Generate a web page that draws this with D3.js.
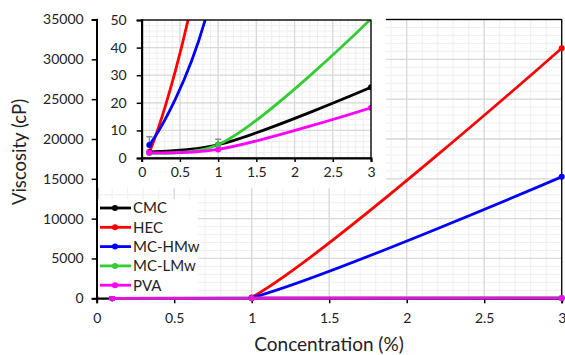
<!DOCTYPE html>
<html>
<head>
<meta charset="utf-8">
<script src="https://cdn.jsdelivr.net/npm/d3@7"></script>
<style>
  body { margin: 0; background: #fff; }
  text { font-family: Lato, "Open Sans", sans-serif; fill: #222; }
</style>
</head>
<body>
<script>
// concentrations (%) measured
var conc = [0.1, 1, 3];

// viscosity (cP) per polymer
var cmc   = [2.2, 4.8, 25.6];
var hec   = [2.0, 116, 31400];
var mcHMw = [4.7, 70, 15250];
var mcLMw = [1.8, 4.8, 50.4];
var pva   = [1.9, 3.1, 18.2];

// error bars (only the visible ones)
var errMcHMw = [3.0, 0, 0];
var errMcLMw = [0, 2.0, 0];

var seriesNames = ["CMC", "HEC", "MC-HMw", "MC-LMw", "PVA"];
var seriesColors = ["#000000", "#ff0000", "#0000ff", "#33cc33", "#ff00ff"];

var xTicks = [0, 0.5, 1, 1.5, 2, 2.5, 3];
var yTicks = [0, 5000, 10000, 15000, 20000, 25000, 30000, 35000];
var insetYTicks = [0, 10, 20, 30, 40, 50];

var series = [
    {name: "CMC", values: cmc, err: null},
    {name: "HEC", values: hec, err: null},
    {name: "MC-HMw", values: mcHMw, err: errMcHMw},
    {name: "MC-LMw", values: mcLMw, err: errMcLMw},
    {name: "PVA", values: pva, err: null}
];

function init_svg() {
    var width = 565;
    var height = 355;
    var svg = d3.select("body")
        .append("svg")
        .attr("width", width)
        .attr("height", height);

    var color = d3.scaleOrdinal().domain(seriesNames).range(seriesColors);
    var defs = svg.append("defs");

    // ---------- main chart ----------
    var x = d3.scaleLinear().domain([0, 3]).range([96.7, 561.7]);
    var y = d3.scaleLinear().domain([0, 35000]).range([298.3, 19.5]);

    defs.append("clipPath").attr("id", "mainClip")
        .append("rect")
        .attr("x", x(0)).attr("y", y(35000))
        .attr("width", x(3) - x(0)).attr("height", y(0) - y(35000) + 1.4);

    var g = svg.append("g");

    // minor grid
    g.append("g").selectAll("line")
        .data(d3.range(0, 31).map(i => i / 10))
        .join("line")
        .attr("x1", d => x(d)).attr("x2", d => x(d))
        .attr("y1", y(0)).attr("y2", y(35000))
        .attr("stroke", "#efefef").attr("stroke-width", 1);
    g.append("g").selectAll("line")
        .data(d3.range(0, 36).map(i => i * 1000))
        .join("line")
        .attr("x1", x(0)).attr("x2", x(3))
        .attr("y1", d => y(d)).attr("y2", d => y(d))
        .attr("stroke", "#efefef").attr("stroke-width", 1);
    // major grid
    g.append("g").selectAll("line")
        .data(xTicks)
        .join("line")
        .attr("x1", d => x(d)).attr("x2", d => x(d))
        .attr("y1", y(0)).attr("y2", y(35000))
        .attr("stroke", "#d9d9d9").attr("stroke-width", 1.3);
    g.append("g").selectAll("line")
        .data(yTicks)
        .join("line")
        .attr("x1", x(0)).attr("x2", x(3))
        .attr("y1", d => y(d)).attr("y2", d => y(d))
        .attr("stroke", "#d9d9d9").attr("stroke-width", 1.3);

    // frame
    g.append("rect")
        .attr("x", x(0)).attr("y", y(35000))
        .attr("width", x(3) - x(0)).attr("height", y(0) - y(35000))
        .attr("fill", "none").attr("stroke", "#000").attr("stroke-width", 1.3);

    // axes
    var xAxis = g.append("g")
        .attr("transform", "translate(0," + y(0) + ")")
        .call(d3.axisBottom(x).tickValues(xTicks).tickFormat(d3.format("")).tickSize(5).tickPadding(10));
    var yAxis = g.append("g")
        .attr("transform", "translate(" + x(0) + ",0)")
        .call(d3.axisLeft(y).tickValues(yTicks).tickFormat(d3.format("d")).tickSize(5).tickPadding(8));
    [xAxis, yAxis].forEach(a => {
        a.select(".domain").attr("stroke", "#000").attr("stroke-width", 2);
        a.selectAll(".tick line").attr("stroke", "#000").attr("stroke-width", 1.5);
        a.selectAll("text").attr("font-size", 14).attr("font-family", "Lato").attr("fill", "#222");
    });

    var line = d3.line()
        .x((d, i) => x(conc[i]))
        .y(d => y(d))
        .curve(d3.curveCardinal.tension(0));

    g.append("g").attr("clip-path", "url(#mainClip)")
        .selectAll("path")
        .data(series)
        .join("path")
        .attr("fill", "none")
        .attr("stroke", d => color(d.name))
        .attr("stroke-width", 2.8)
        .attr("d", d => line(d.values));

    g.append("g").selectAll("g")
        .data(series)
        .join("g")
        .attr("fill", d => color(d.name))
        .selectAll("circle")
        .data(d => d.values)
        .join("circle")
        .attr("cx", (d, i) => x(conc[i]))
        .attr("cy", d => y(d))
        .attr("r", 3);

    // ---------- inset ----------
    var ix = d3.scaleLinear().domain([0, 3]).range([141.7, 371]);
    var iy = d3.scaleLinear().domain([0, 50]).range([158, 20]);

    var inset = svg.append("g");
    inset.append("rect")
        .attr("x", 98).attr("y", 0)
        .attr("width", 288).attr("height", 188)
        .attr("fill", "#fff");

    defs.append("clipPath").attr("id", "insetClip")
        .append("rect")
        .attr("x", ix(0)).attr("y", iy(50))
        .attr("width", ix(3) - ix(0)).attr("height", iy(0) - iy(50));

    inset.append("g").selectAll("line")
        .data(d3.range(0, 31).map(i => i / 10))
        .join("line")
        .attr("x1", d => ix(d)).attr("x2", d => ix(d))
        .attr("y1", iy(0)).attr("y2", iy(50))
        .attr("stroke", "#efefef");
    inset.append("g").selectAll("line")
        .data(d3.range(0, 26).map(i => i * 2))
        .join("line")
        .attr("x1", ix(0)).attr("x2", ix(3))
        .attr("y1", d => iy(d)).attr("y2", d => iy(d))
        .attr("stroke", "#efefef");
    inset.append("g").selectAll("line")
        .data(xTicks)
        .join("line")
        .attr("x1", d => ix(d)).attr("x2", d => ix(d))
        .attr("y1", iy(0)).attr("y2", iy(50))
        .attr("stroke", "#d9d9d9").attr("stroke-width", 1.3);
    inset.append("g").selectAll("line")
        .data(insetYTicks)
        .join("line")
        .attr("x1", ix(0)).attr("x2", ix(3))
        .attr("y1", d => iy(d)).attr("y2", d => iy(d))
        .attr("stroke", "#d9d9d9").attr("stroke-width", 1.3);

    var plot = inset.append("g").attr("clip-path", "url(#insetClip)");

    // error bars
    var errData = [];
    series.forEach(s => {
        if (!s.err) return;
        s.values.forEach((v, i) => {
            if (s.err[i] > 0) errData.push({x: conc[i], v: v, e: s.err[i]});
        });
    });
    var eb = plot.append("g").attr("stroke", "#8c8c8c").attr("stroke-width", 1.3)
        .selectAll("g").data(errData).join("g");
    eb.append("line")
        .attr("x1", d => ix(d.x)).attr("x2", d => ix(d.x))
        .attr("y1", d => iy(d.v - d.e)).attr("y2", d => iy(d.v + d.e));
    eb.append("line")
        .attr("x1", d => ix(d.x) - 3).attr("x2", d => ix(d.x) + 3)
        .attr("y1", d => iy(d.v + d.e)).attr("y2", d => iy(d.v + d.e));
    eb.append("line")
        .attr("x1", d => ix(d.x) - 3).attr("x2", d => ix(d.x) + 3)
        .attr("y1", d => iy(d.v - d.e)).attr("y2", d => iy(d.v - d.e));

    var iline = d3.line()
        .x((d, i) => ix(conc[i]))
        .y(d => iy(d))
        .curve(d3.curveCatmullRom.alpha(0.5));

    plot.append("g").selectAll("path")
        .data(series)
        .join("path")
        .attr("fill", "none")
        .attr("stroke", d => color(d.name))
        .attr("stroke-width", 2.8)
        .attr("d", d => iline(d.values));

    plot.append("g").selectAll("g")
        .data(series)
        .join("g")
        .attr("fill", d => color(d.name))
        .selectAll("circle")
        .data(d => d.values)
        .join("circle")
        .attr("cx", (d, i) => ix(conc[i]))
        .attr("cy", d => iy(d))
        .attr("r", 3);

    inset.append("rect")
        .attr("x", ix(0)).attr("y", iy(50))
        .attr("width", ix(3) - ix(0)).attr("height", iy(0) - iy(50))
        .attr("fill", "none").attr("stroke", "#000").attr("stroke-width", 1.3);

    var ixAxis = inset.append("g")
        .attr("transform", "translate(0," + iy(0) + ")")
        .call(d3.axisBottom(ix).tickValues(xTicks).tickFormat(d3.format("")).tickSize(4).tickPadding(5));
    var iyAxis = inset.append("g")
        .attr("transform", "translate(" + ix(0) + ",0)")
        .call(d3.axisLeft(iy).tickValues(insetYTicks).tickSize(5).tickPadding(10));
    [ixAxis, iyAxis].forEach(a => {
        a.select(".domain").attr("stroke", "#000").attr("stroke-width", 2);
        a.selectAll(".tick line").attr("stroke", "#000").attr("stroke-width", 1.5);
        a.selectAll("text").attr("font-size", 14).attr("font-family", "Lato").attr("fill", "#222");
    });

    // ---------- legend ----------
    var legend = svg.append("g");
    legend.append("rect")
        .attr("x", 98).attr("y", 199)
        .attr("width", 100).attr("height", 97)
        .attr("fill", "#fff");
    var items = legend.selectAll("g.item")
        .data(seriesNames)
        .join("g")
        .attr("class", "item")
        .attr("transform", (d, i) => "translate(100," + (208 + i * 19.3) + ")");
    items.append("line")
        .attr("x1", 0).attr("x2", 31)
        .attr("stroke", d => color(d)).attr("stroke-width", 2.8);
    items.append("circle")
        .attr("cx", 15).attr("r", 3)
        .attr("fill", d => color(d));
    items.append("text")
        .attr("x", 33).attr("dy", "0.36em")
        .attr("font-size", 15)
        .text(d => d);

    // ---------- titles ----------
    svg.append("text")
        .attr("x", 329).attr("y", 351)
        .attr("text-anchor", "middle")
        .attr("font-size", 19)
        .text("Concentration (%)");
    svg.append("text")
        .attr("transform", "translate(26,152) rotate(-90)")
        .attr("text-anchor", "middle")
        .attr("font-size", 18.5)
        .text("Viscosity (cP)");
}

init_svg();
</script>
</body>
</html>
